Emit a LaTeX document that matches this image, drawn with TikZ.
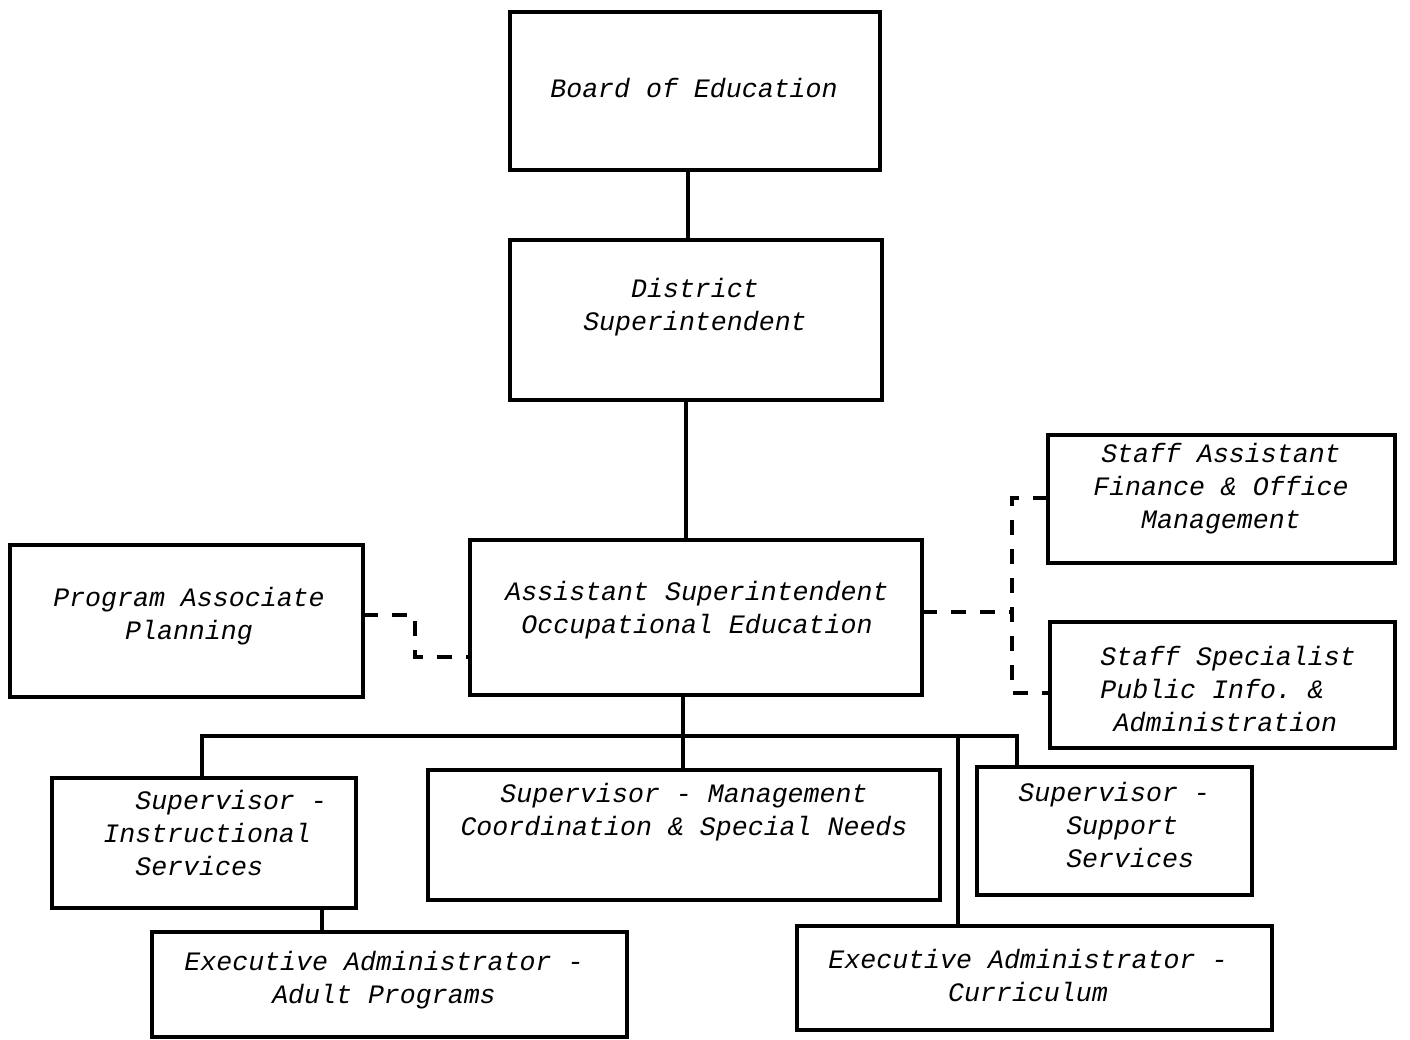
\documentclass[tikz,border=0pt]{standalone}
\usepackage{fontspec}
\setmonofont{Liberation Mono}
\begin{document}
\begin{tikzpicture}[x=0.5pt,y=-0.5pt,
  box/.style={draw, line width=1.8pt, inner sep=0pt, outer sep=0pt},
  lbl/.style={font=\fontsize{13.3}{16.5}\selectfont\ttfamily\itshape, align=center, inner sep=0pt},
  lbll/.style={lbl, align=left, anchor=west},
  conn/.style={line width=2pt},
  dsh/.style={line width=2pt, dash pattern=on 7.5pt off 7pt}]
\useasboundingbox (0,0) rectangle (1410,1040);
% boxes
\node[box, minimum width=370*0.5pt, minimum height=158*0.5pt] (board) at (695,91) {};
\node[box, minimum width=372*0.5pt, minimum height=160*0.5pt] (dist) at (696,320) {};
\node[box, minimum width=452*0.5pt, minimum height=155*0.5pt] (asst) at (696,617.5) {};
\node[box, minimum width=353*0.5pt, minimum height=152*0.5pt] (prog) at (186.5,621) {};
\node[box, minimum width=347*0.5pt, minimum height=128*0.5pt] (sa) at (1221.5,499) {};
\node[box, minimum width=345*0.5pt, minimum height=126*0.5pt] (ss) at (1222.5,685) {};
\node[box, minimum width=304*0.5pt, minimum height=130*0.5pt] (si) at (204,843) {};
\node[box, minimum width=512*0.5pt, minimum height=130*0.5pt] (sm) at (684,835) {};
\node[box, minimum width=275*0.5pt, minimum height=128*0.5pt] (sup) at (1114.5,831) {};
\node[box, minimum width=475*0.5pt, minimum height=105*0.5pt] (ea) at (389.5,984.5) {};
\node[box, minimum width=475*0.5pt, minimum height=104*0.5pt] (ec) at (1034.5,978) {};
% labels
\node[lbl] (boardT) at (694,88) {Board of Education};
\node[lbl] (distT) at (695,307) {District\\Superintendent};
\node[lbl] (asstT) at (697,610) {Assistant Superintendent\\Occupational Education};
\node[lbl] (progT) at (189,616) {Program Associate\\Planning};
\node[lbl] (saT) at (1221,489) {Staff Assistant\\Finance \& Office\\Management};
\node[lbll] (ssT) at (1100,689) {Staff Specialist\\Public Info. \&\\\hspace*{0.5em}Administration};
\node[lbll] (siT) at (103,833) {\hspace*{1.2em}Supervisor -\\Instructional\\\hspace*{1.2em}Services};
\node[lbl] (smT) at (684,812) {Supervisor - Management\\Coordination \& Special Needs};
\node[lbll] (supT) at (1018,825) {Supervisor -\\\hspace*{1.8em}Support\\\hspace*{1.8em}Services};
\node[lbl] (eaT) at (384,980) {Executive Administrator -\\Adult Programs};
\node[lbl] (ecT) at (1028,975) {Executive Administrator -\\Curriculum};
% solid connectors
\coordinate (busL) at (202,736);
\coordinate (busM) at (683,736);
\coordinate (busC) at (958,736);
\coordinate (busR) at (1017,736);
\draw[conn] (board.south -| 688,0) -- (dist.north -| 688,0);
\draw[conn] (dist.south -| 686,0) -- (asst.north -| 686,0);
\draw[conn] (asst.south -| busM) -- (sm.north -| busM);
\draw[conn] (si.north -| busL) -- (busL) -- (busR) -- (sup.north -| busR);
\draw[conn] (busC) -- (ec.north -| busC);
\draw[conn] (si.south -| 322,0) -- (ea.north -| 322,0);
% dashed connectors
\coordinate (pl1) at (415,615);
\coordinate (pl2) at (415,657);
\draw[dsh] (prog.east |- pl1) -- (pl1) -- (pl2) -- (asst.west |- pl2);
\coordinate (rv) at (1012,612);
\coordinate (rt) at (1012,498);
\coordinate (rb) at (1012,693);
\draw[dsh] (asst.east |- rv) -- (rv);
\draw[dsh] (sa.west |- rt) -- (rt) -- (rb) -- (ss.west |- rb);
\end{tikzpicture}
\end{document}
